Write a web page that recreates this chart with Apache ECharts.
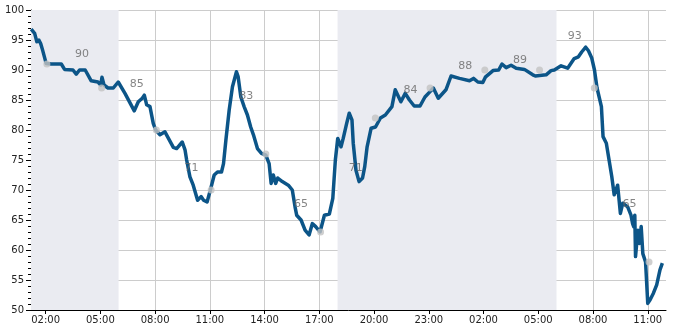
<!DOCTYPE html>
<html>
<head>
<meta charset="utf-8">
<script src="https://cdn.jsdelivr.net/npm/echarts@6/dist/echarts.min.js"></script>
<style>html,body{margin:0;padding:0;background:#fff}#c{width:685px;height:330px}</style>
</head>
<body>
<div id="c"></div>
<script>
// hours since 00:00 of day 1
const lineHours = [1.21,1.40,1.52,1.63,1.73,1.81,2.03,2.31,2.86,3.04,3.50,3.68,3.86,4.17,4.50,4.87,5.02,5.09,5.20,5.42,5.71,5.98,6.35,6.86,7.08,7.30,7.41,7.54,7.72,7.90,8.03,8.27,8.54,9.00,9.18,9.49,9.64,9.73,9.91,10.09,10.33,10.52,10.66,10.85,11.03,11.24,11.42,11.64,11.75,11.88,12.06,12.24,12.46,12.55,12.70,12.88,13.06,13.24,13.39,13.61,13.83,14.07,14.25,14.36,14.48,14.61,14.72,14.97,15.30,15.52,15.67,15.76,16.00,16.22,16.44,16.62,16.80,17.04,17.28,17.55,17.65,17.74,17.88,18.01,18.19,18.31,18.50,18.64,18.79,18.86,19.01,19.18,19.37,19.49,19.62,19.84,20.08,20.35,20.62,20.98,21.16,21.47,21.71,21.94,22.20,22.52,22.79,23.07,23.25,23.52,23.94,24.22,24.68,25.23,25.45,25.69,25.96,26.10,26.52,26.83,27.01,27.24,27.51,27.79,28.24,28.70,28.84,29.43,29.70,29.88,30.25,30.61,30.97,31.20,31.38,31.60,31.75,31.93,32.08,32.22,32.46,32.55,32.73,32.88,33.03,33.16,33.26,33.35,33.50,33.63,33.90,34.08,34.17,34.23,34.29,34.33,34.46,34.55,34.64,34.73,34.88,35.00,35.13,35.31,35.49,35.67,35.80,35.91];
const lineValues = [96.8,96.1,94.7,95.0,94.4,93.6,91.1,91.0,91.0,90.1,90.0,89.3,90.0,90.0,88.2,88.0,87.5,88.8,87.5,87.0,87.0,88.0,86.1,83.2,84.7,85.3,85.8,84.2,83.9,81.1,80.0,79.2,79.7,77.1,76.9,78.0,76.7,75.0,72.2,70.8,68.3,68.9,68.3,68.0,70.0,72.5,73.0,73.0,74.4,78.3,83.3,87.2,89.7,88.9,85.5,83.9,82.5,80.5,79.2,76.9,76.1,75.8,74.4,71.1,72.5,71.1,72.0,71.4,70.8,70.0,67.2,65.8,65.0,63.3,62.5,64.4,63.9,63.0,65.8,66.0,66.0,68.6,75.0,78.6,77.2,78.6,81.1,82.8,81.7,77.8,73.3,71.4,72.0,73.9,77.2,80.3,80.5,82.0,82.5,83.9,86.7,84.7,86.1,85.0,84.0,84.0,85.5,86.4,87.0,85.3,86.7,89.0,88.6,88.2,88.6,88.0,87.9,88.8,89.9,90.0,91.0,90.4,90.8,90.3,90.1,89.2,89.0,89.2,89.9,90.0,90.7,90.3,91.9,92.2,93.0,93.8,93.2,92.0,90.0,87.0,83.9,78.9,77.8,75.0,72.2,69.2,68.9,70.8,66.1,67.8,67.2,65.8,64.4,63.9,65.8,58.9,63.3,61.1,63.9,59.4,58.0,51.1,51.7,52.8,54.2,56.7,57.8];

const dotHours = [2.07,5.07,8.07,11.07,14.07,17.07,20.07,23.07,26.07,29.07,32.07,35.07];
const dotValues = [91,87,80,70,76,63,82,87,90,90,87,58];

const labelHours = [4,7,10,13,16,19,22,25,28,31,34];
const labelValues = [90,85,71,83,65,71,84,88,89,93,65];

const nightBands = [[1.2,6],[18,30]];
const tickHours = [2,5,8,11,14,17,20,23,26,29,32,35];

const xMin = 1.2, xMax = 36;

const chart = echarts.init(document.getElementById('c'), null, {renderer:'canvas'});
const font = 'DejaVu Sans';
chart.setOption({
  animation: false,
  grid: {left: 31, right: 19, top: 10, bottom: 20, containLabel: false},
  xAxis: {
    type: 'value', min: xMin, max: xMax,
    axisLine: {show: true, onZero: false, lineStyle: {color: '#000', width: 1}},
    axisTick: {show: true, length: 4, lineStyle: {color: '#000'}, customValues: tickHours},
    axisLabel: {
      customValues: tickHours, color: '#222', fontSize: 10, fontFamily: font, margin: 5,
      formatter: v => String(Math.round(v) % 24).padStart(2,'0') + ':00'
    },
    splitLine: {show: true, lineStyle: {color: '#cccccc', width: 1}}
  },
  yAxis: {
    type: 'value', min: 50, max: 100, interval: 5,
    axisLine: {show: true, lineStyle: {color: '#000', width: 1}},
    axisTick: {show: true, length: 5, lineStyle: {color: '#000'}},
    minorTick: {show: true, splitNumber: 5, length: 3, lineStyle: {color: '#000'}},
    axisLabel: {color: '#222', fontSize: 10, fontFamily: font, margin: 7},
    splitLine: {show: true, lineStyle: {color: '#cccccc', width: 1}}
  },
  series: [
    {
      type: 'line',
      data: lineHours.map((h, i) => [h, lineValues[i]]),
      showSymbol: false, symbol: 'none',
      lineStyle: {color: '#0c5588', width: 3.5, join: 'round'},
      z: 3,
      markArea: {
        silent: true,
        itemStyle: {color: '#eaebf1'},
        data: nightBands.map(b => [{xAxis: b[0]}, {xAxis: b[1]}])
      }
    },
    {
      type: 'scatter',
      data: dotHours.map((h, i) => [h, dotValues[i]]),
      symbolSize: 7,
      itemStyle: {color: '#c3c3c3'},
      z: 4
    },
    {
      type: 'scatter',
      data: labelHours.map((h, i) => [h, labelValues[i]]),
      symbolSize: 1,
      itemStyle: {color: 'rgba(0,0,0,0)'},
      label: {
        show: true, position: 'inside', offset: [0, -16],
        color: '#666', fontSize: 11, fontFamily: font,
        formatter: p => String(p.value[1])
      },
      z: 5
    }
  ]
});
</script>
</body>
</html>
